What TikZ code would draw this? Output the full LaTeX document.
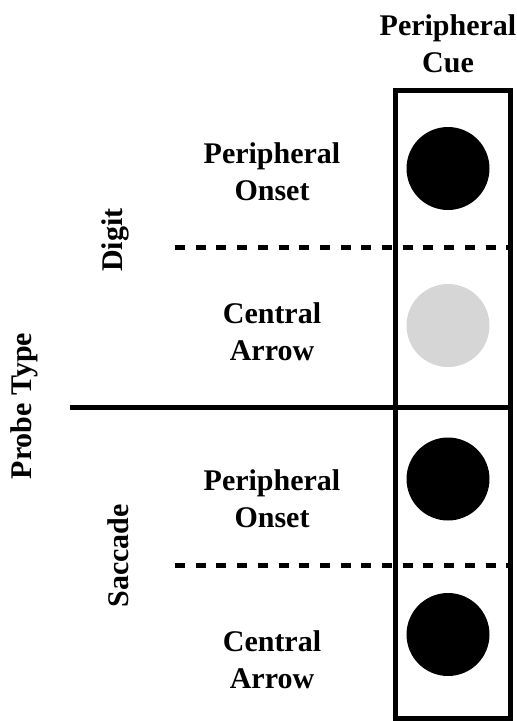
\documentclass[tikz,border=0pt]{standalone}
\usepackage{fontspec}
\setmainfont{Liberation Serif}
\begin{document}
\begin{tikzpicture}[x=1pt,y=-1pt,
  lbl/.style={font=\fontsize{30}{37}\selectfont\bfseries, align=center, inner sep=0pt, anchor=base},
  vlbl/.style={font=\fontsize{30}{37}\selectfont\bfseries, inner sep=0pt, rotate=90},
  rule/.style={line width=5pt},
  dashrule/.style={line width=5pt, dash pattern=on 10pt off 10.7pt},
  dot/.style={circle, inner sep=0pt, minimum size=83pt, fill=black},
  greydot/.style={dot, fill=cuegrey}]
\definecolor{cuegrey}{HTML}{D6D6D6}
\useasboundingbox (0,0) rectangle (517,721);

% column header (anchored at the baseline of its last line)
\node[lbl] (hdr) at (448,72) {Peripheral\\Cue};

% outer frame of the cue column
\node[draw, line width=5pt, inner sep=0pt, minimum width=115pt, minimum height=627.5pt] (cuebox) at (453,404.25) {};

% row separators
\coordinate (solidL) at (70,407);
\coordinate (solidR) at (510.5,407);
\coordinate (dashAL) at (175,247);
\coordinate (dashAR) at (510.5,247);
\coordinate (dashBL) at (175,565);
\coordinate (dashBR) at (510.5,565);
\draw[rule] (solidL) -- (solidR);
\draw[dashrule] (dashAL) -- (dashAR);
\draw[dashrule] (dashBL) -- (dashBR);

% cue stimuli
\node[dot] (c1) at (448,168.5) {};
\node[greydot] (c2) at (448,325.5) {};
\node[dot] (c3) at (448,479) {};
\node[dot] (c4) at (448,634.5) {};

% condition labels
\node[lbl] (r1) at (272,200) {Peripheral\\Onset};
\node[lbl] (r2) at (272,360) {Central\\Arrow};
\node[lbl] (r3) at (272,527) {Peripheral\\Onset};
\node[lbl] (r4) at (272,688) {Central\\Arrow};

% probe type labels
\node[vlbl] (digit) at (115,240) {Digit};
\node[vlbl] (saccade) at (118,556) {Saccade};
\node[vlbl] (probe) at (24,406) {Probe Type};
\end{tikzpicture}
\end{document}
